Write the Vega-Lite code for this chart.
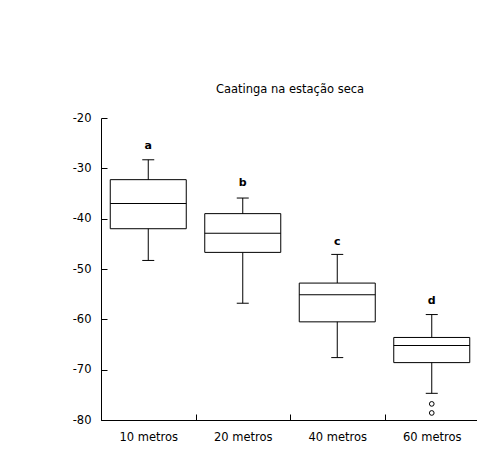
{
  "$schema": "https://vega.github.io/schema/vega-lite/v6.json",
  "width": 378,
  "height": 302,
  "autosize": {"type": "none"},
  "padding": {"left": 101, "top": 118, "right": 0, "bottom": 30},
  "background": "white",
  "title": {"text": "Caatinga na estação seca", "font": "DejaVu Sans", "fontSize": 11.5, "fontWeight": "normal", "color": "black", "offset": 17, "anchor": "middle"},
  "config": {"view": {"stroke": null}},
  "datasets": {
    "boxes": [
      {"group": "10 metros", "lower": -48.3, "q1": -42.0, "median": -37.0, "q3": -32.25, "upper": -28.3, "letter": "a", "letterY": -25.6},
      {"group": "20 metros", "lower": -56.8, "q1": -46.7, "median": -42.9, "q3": -39.0, "upper": -35.9, "letter": "b", "letterY": -32.9},
      {"group": "40 metros", "lower": -67.6, "q1": -60.5, "median": -55.1, "q3": -52.8, "upper": -47.1, "letter": "c", "letterY": -44.6},
      {"group": "60 metros", "lower": -74.7, "q1": -68.6, "median": -65.2, "q3": -63.6, "upper": -59.05, "letter": "d", "letterY": -56.3}
    ],
    "outliers": [
      {"group": "60 metros", "value": -76.8},
      {"group": "60 metros", "value": -78.6}
    ]
  },
  "encoding": {
    "x": {
      "field": "group", "type": "nominal",
      "sort": ["10 metros", "20 metros", "40 metros", "60 metros"],
      "scale": {"paddingInner": 0, "paddingOuter": 0},
      "axis": {
        "title": null, "labelAngle": 0, "grid": false,
        "domainColor": "black", "domainWidth": 1,
        "tickBand": "extent", "tickSize": -6, "tickColor": "black",
        "labelFont": "DejaVu Sans", "labelFontSize": 11.5, "labelColor": "black", "labelPadding": 17
      }
    }
  },
  "layer": [
    {
      "data": {"name": "boxes"},
      "mark": {"type": "rule", "color": "black", "strokeWidth": 1},
      "encoding": {
        "y": {"field": "lower", "type": "quantitative",
          "scale": {"domain": [-80, -20], "nice": false, "zero": false},
          "axis": {
            "title": null, "grid": false, "values": [-80, -70, -60, -50, -40, -30, -20],
            "domainColor": "black", "tickSize": -6, "tickColor": "black",
            "labelExpr": "'' + datum.value",
            "labelFont": "DejaVu Sans", "labelFontSize": 11.5, "labelColor": "black", "labelPadding": 16
          }},
        "y2": {"field": "upper"}
      }
    },
    {
      "data": {"name": "boxes"},
      "mark": {"type": "bar", "size": 76, "fill": "white", "stroke": "black", "strokeWidth": 1},
      "encoding": {
        "y": {"field": "q1", "type": "quantitative"},
        "y2": {"field": "q3"}
      }
    },
    {
      "data": {"name": "boxes"},
      "mark": {"type": "tick", "size": 76, "thickness": 1, "color": "black", "opacity": 1},
      "encoding": {"y": {"field": "median", "type": "quantitative"}}
    },
    {
      "data": {"name": "boxes"},
      "mark": {"type": "tick", "size": 12, "thickness": 1, "color": "black", "opacity": 1},
      "encoding": {"y": {"field": "lower", "type": "quantitative"}}
    },
    {
      "data": {"name": "boxes"},
      "mark": {"type": "tick", "size": 12, "thickness": 1, "color": "black", "opacity": 1},
      "encoding": {"y": {"field": "upper", "type": "quantitative"}}
    },
    {
      "data": {"name": "outliers"},
      "mark": {"type": "point", "shape": "circle", "filled": false, "size": 22, "stroke": "black", "strokeWidth": 1, "opacity": 1},
      "encoding": {"y": {"field": "value", "type": "quantitative"}}
    },
    {
      "data": {"name": "boxes"},
      "mark": {"type": "text", "font": "DejaVu Sans", "fontSize": 11, "fontWeight": "bold", "color": "black", "baseline": "middle", "align": "center"},
      "encoding": {
        "y": {"field": "letterY", "type": "quantitative"},
        "text": {"field": "letter"}
      }
    }
  ]
}
